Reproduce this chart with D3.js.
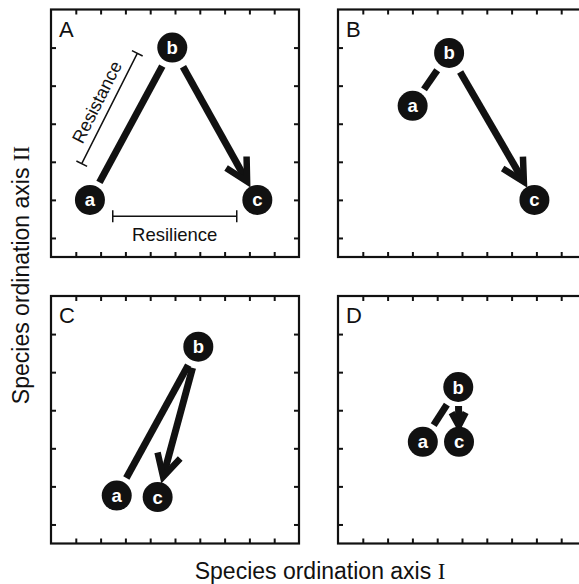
<!DOCTYPE html>
<html>
<head>
<meta charset="utf-8">
<script src="https://d3js.org/d3.v7.min.js"></script>
<style>
body { margin: 0; background: #fff; }
text { font-family: "Liberation Sans", Arial, Helvetica, sans-serif; fill: #111; }
.serif { font-family: "Liberation Serif", "DejaVu Serif", serif; }
</style>
</head>
<body>
<div id="chart"></div>
<script>
// panel data (x: axis I, y: axis II, arbitrary ordination units)
var panels = ["A", "B", "C", "D"];
var ax = [1.57, 3.01, 2.65, 3.42];
var ay = [1.00, 3.47, 0.76, 2.17];
var bx = [4.89, 4.48, 5.94, 4.85];
var by = [5.00, 4.86, 4.67, 3.61];
var cx = [8.32, 7.92, 4.30, 4.88];
var cy = [1.00, 1.00, 0.72, 2.17];

var xTicks = [1, 2, 3, 4, 5, 6, 7, 8, 9];
var yTicks = [0, 1, 2, 3, 4, 5];

// annotation brackets in panel A
var resistance = [[1.24, 1.95], [3.48, 4.85]];
var resilience = [[2.49, 0.57], [7.49, 0.57]];

var W = 248, H = 247.5, R = 15;
var offX = [51, 338, 51, 338], offY = [9.5, 9.5, 296, 296];

var svg = d3.select("#chart").append("svg").attr("width", 579).attr("height", 584);

var x = d3.scaleLinear().domain([0, 10]).range([0, W]);
var y = d3.scaleLinear().domain([-0.5, 6]).range([H, 0]);

function shorten(p, q, d1, d2) {
    var dx = q[0] - p[0], dy = q[1] - p[1], L = Math.sqrt(dx*dx + dy*dy);
    var ux = dx / L, uy = dy / L;
    return [[p[0] + ux*d1, p[1] + uy*d1], [q[0] - ux*d2, q[1] - uy*d2], ux, uy, L];
}

panels.forEach(function(name, i) {
    var g = svg.append("g").attr("transform", "translate(" + offX[i] + "," + offY[i] + ")");

    g.append("g").attr("transform", "translate(0," + H + ")")
        .call(d3.axisBottom(x).tickValues(xTicks).tickSizeInner(-5).tickSizeOuter(0).tickFormat(""));
    g.append("g").call(d3.axisTop(x).tickValues(xTicks).tickSizeInner(-5).tickSizeOuter(0).tickFormat(""));
    g.append("g").call(d3.axisLeft(y).tickValues(yTicks).tickSizeInner(-5).tickSizeOuter(0).tickFormat(""));
    g.append("g").attr("transform", "translate(" + W + ",0)")
        .call(d3.axisRight(y).tickValues(yTicks).tickSizeInner(-5).tickSizeOuter(0).tickFormat(""));
    g.selectAll(".domain").remove();
    g.selectAll(".tick line").attr("stroke", "#111").attr("stroke-width", 2);

    g.append("rect").attr("width", W).attr("height", H)
        .attr("fill", "none").attr("stroke", "#111").attr("stroke-width", 2.2);

    g.append("text").attr("x", 8).attr("y", 27).attr("font-size", 22).text(name);

    var A = [x(ax[i]), y(ay[i])], B = [x(bx[i]), y(by[i])], C = [x(cx[i]), y(cy[i])];

    // a -> b segment
    var s = shorten(A, B, 20, 21);
    g.append("line").attr("x1", s[0][0]).attr("y1", s[0][1]).attr("x2", s[1][0]).attr("y2", s[1][1])
        .attr("stroke", "#111").attr("stroke-width", 7);

    // b -> c arrow
    var shortArrow = Math.hypot(C[0] - B[0], C[1] - B[1]) < 80;
    var t = shortArrow ? shorten(B, C, 19, 16) : shorten(B, C, 22, 21);
    var tip = t[1], ux = t[2], uy = t[3];
    var wl = shortArrow ? 15 : 25, ang = 28 * Math.PI / 180;
    var back = Math.atan2(-uy, -ux);
    var w1 = [tip[0] + wl*Math.cos(back + ang), tip[1] + wl*Math.sin(back + ang)];
    var w2 = [tip[0] + wl*Math.cos(back - ang), tip[1] + wl*Math.sin(back - ang)];
    g.append("line").attr("x1", t[0][0]).attr("y1", t[0][1]).attr("x2", tip[0] - ux*3).attr("y2", tip[1] - uy*3)
        .attr("stroke", "#111").attr("stroke-width", 7);
    g.append("path").attr("d", d3.line()([w1, tip, w2]))
        .attr("fill", "none").attr("stroke", "#111").attr("stroke-width", 6.5).attr("stroke-linejoin", "miter");

    var pts = [[A, "a"], [B, "b"], [C, "c"]];
    pts.forEach(function(p) {
        g.append("circle").attr("cx", p[0][0]).attr("cy", p[0][1]).attr("r", R).attr("fill", "#111");
        g.append("text").attr("x", p[0][0]).attr("y", p[0][1] + 6.5).attr("text-anchor", "middle")
            .attr("font-size", 18.5).attr("font-weight", "bold").style("fill", "#fff").text(p[1]);
    });

    if (i === 0) {
        // resistance bracket
        var p1 = [x(resistance[0][0]), y(resistance[0][1])], p2 = [x(resistance[1][0]), y(resistance[1][1])];
        var dx = p2[0] - p1[0], dy = p2[1] - p1[1], L = Math.sqrt(dx*dx + dy*dy);
        var nx = -dy / L * 6, ny = dx / L * 6;
        g.append("path").attr("d", "M" + p1 + "L" + p2 +
            "M" + [p1[0] - nx, p1[1] - ny] + "L" + [p1[0] + nx, p1[1] + ny] +
            "M" + [p2[0] - nx, p2[1] - ny] + "L" + [p2[0] + nx, p2[1] + ny])
            .attr("fill", "none").attr("stroke", "#111").attr("stroke-width", 1.5);
        var deg = Math.atan2(dy, dx) * 180 / Math.PI;
        g.append("text").attr("text-anchor", "middle").attr("font-size", 18)
            .attr("transform", "translate(" + ((p1[0] + p2[0]) / 2) + "," + ((p1[1] + p2[1]) / 2) + ") rotate(" + deg + ")")
            .attr("y", -8).text("Resistance");

        // resilience bracket
        var q1 = [x(resilience[0][0]), y(resilience[0][1])], q2 = [x(resilience[1][0]), y(resilience[1][1])];
        g.append("path").attr("d", "M" + q1 + "L" + q2 +
            "M" + [q1[0], q1[1] - 6] + "L" + [q1[0], q1[1] + 6] +
            "M" + [q2[0], q2[1] - 6] + "L" + [q2[0], q2[1] + 6])
            .attr("fill", "none").attr("stroke", "#111").attr("stroke-width", 1.5);
        g.append("text").attr("x", (q1[0] + q2[0]) / 2).attr("y", q1[1] + 25).attr("text-anchor", "middle")
            .attr("font-size", 18.5).text("Resilience");
    }
});

var xl = svg.append("text").attr("x", 320).attr("y", 579).attr("text-anchor", "middle").attr("font-size", 23);
xl.append("tspan").text("Species ordination axis ");
xl.append("tspan").attr("class", "serif").text("I");

var yl = svg.append("text").attr("transform", "translate(29,275) rotate(-90)").attr("text-anchor", "middle").attr("font-size", 23);
yl.append("tspan").text("Species ordination axis ");
yl.append("tspan").attr("class", "serif").text("II");
</script>
</body>
</html>
